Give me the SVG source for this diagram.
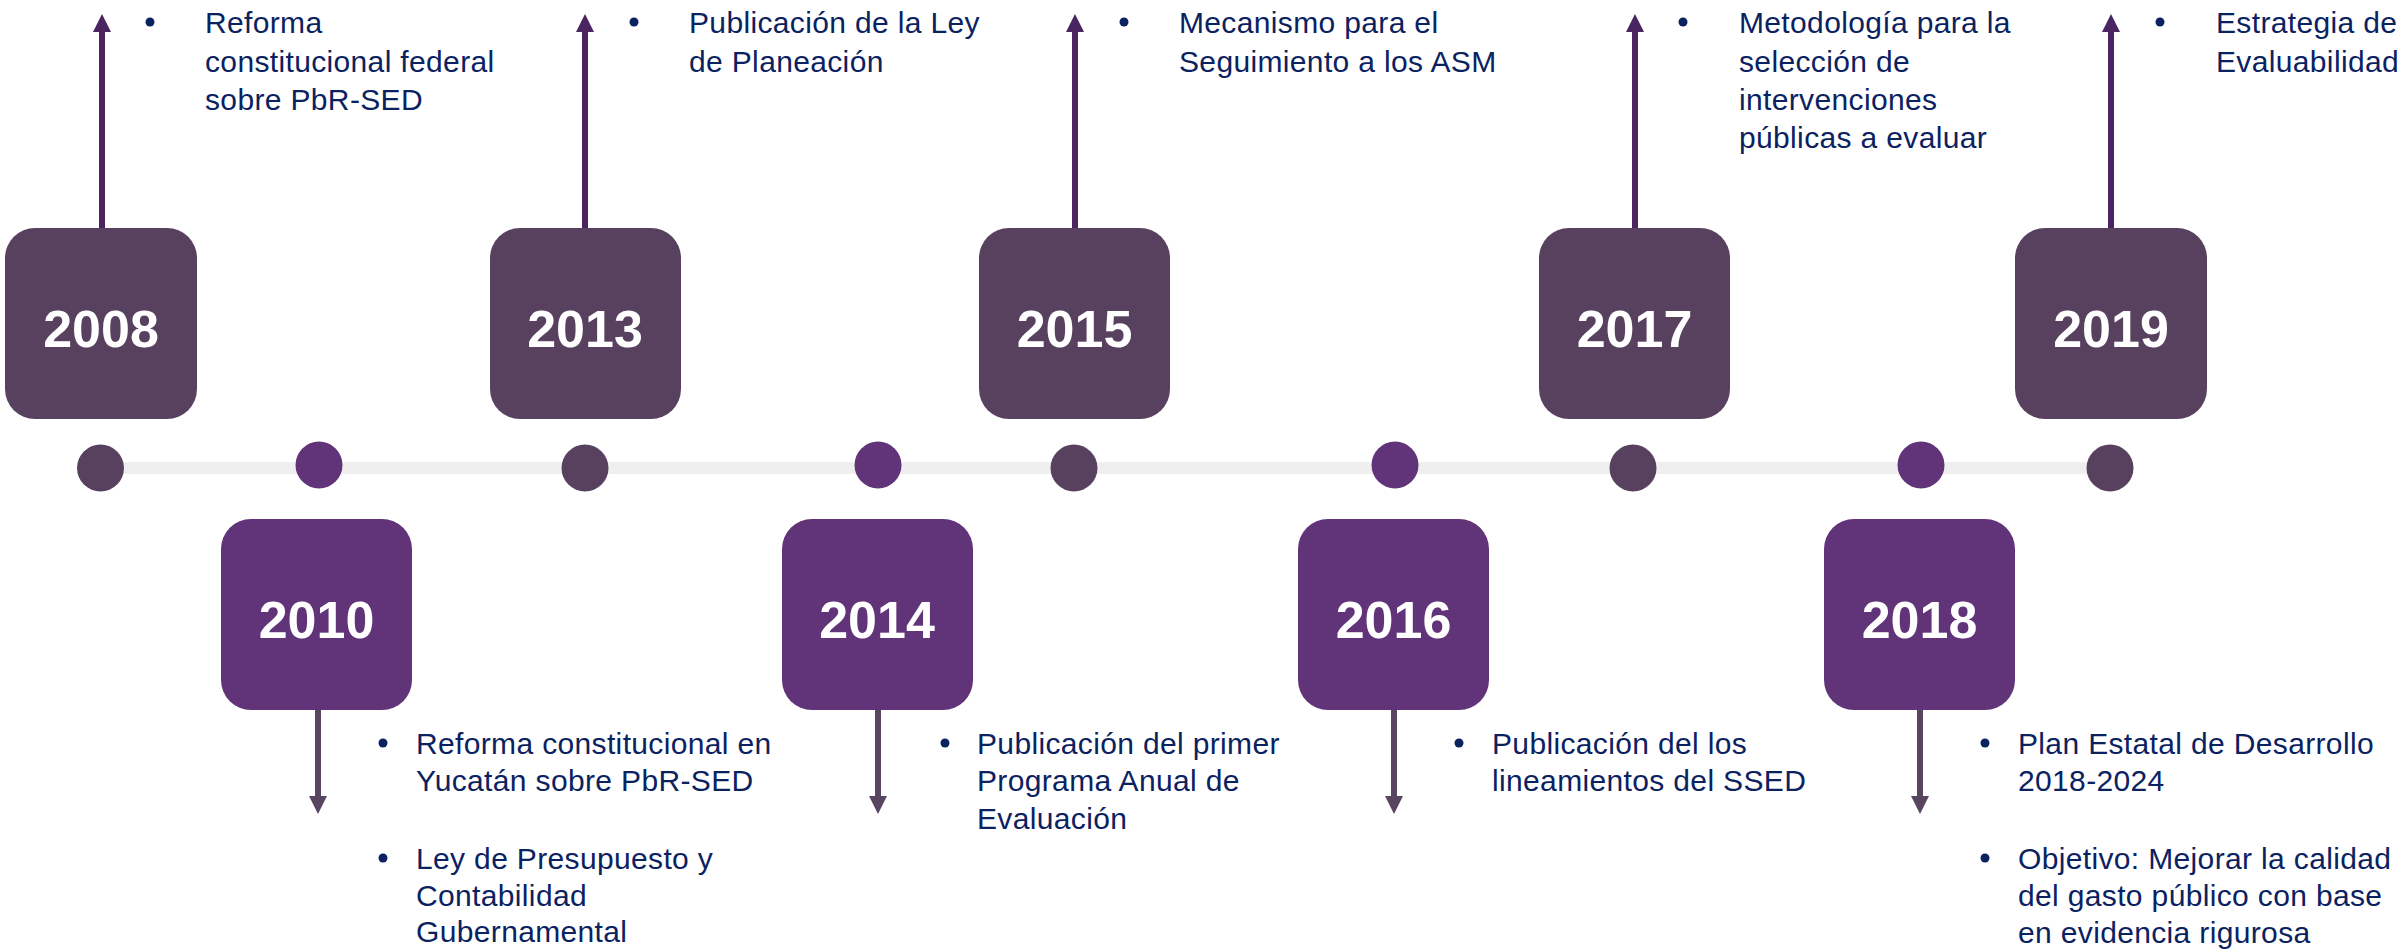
<svg xmlns="http://www.w3.org/2000/svg" width="2402" height="952" viewBox="0 0 2402 952">
<defs>
<style>
.dark{fill:#57415f}
.purp{fill:#613379}
.year{font-family:"Liberation Sans",Arial,sans-serif;font-weight:bold;font-size:52px;fill:#ffffff;text-anchor:middle}
.txt{font-family:"Liberation Sans",Arial,sans-serif;font-size:30px;letter-spacing:0.35px;fill:#0b2261}
.bul{fill:#0b2261}
.up{stroke:#4b2562;stroke-width:6;fill:none}
.down{stroke:#584661;stroke-width:6;fill:none}
</style>
<marker id="headUp" viewBox="0 0 18 18" markerWidth="18" markerHeight="18" refX="0" refY="9" orient="auto" markerUnits="userSpaceOnUse"><path d="M0,0 L18,9 L0,18 z" fill="#4b2562"/></marker>
<marker id="headDown" viewBox="0 0 18 18" markerWidth="18" markerHeight="18" refX="0" refY="9" orient="auto" markerUnits="userSpaceOnUse"><path d="M0,0 L18,9 L0,18 z" fill="#584661"/></marker>
</defs>
<rect width="2402" height="952" fill="#ffffff"/>
<g id="timeline">
<rect x="100" y="462" width="2010" height="12" fill="#efefef"/>
<circle class="dark" cx="100.5" cy="468" r="23.5"/>
<circle class="purp" cx="319" cy="465" r="23.5"/>
<circle class="dark" cx="585" cy="468" r="23.5"/>
<circle class="purp" cx="878" cy="465" r="23.5"/>
<circle class="dark" cx="1074" cy="468" r="23.5"/>
<circle class="purp" cx="1395" cy="465" r="23.5"/>
<circle class="dark" cx="1633" cy="468" r="23.5"/>
<circle class="purp" cx="1921" cy="465" r="23.5"/>
<circle class="dark" cx="2110" cy="468" r="23.5"/>
</g>
<g id="connectors">
<line class="up" x1="102" y1="230" x2="102" y2="32" marker-end="url(#headUp)"/>
<line class="up" x1="585" y1="230" x2="585" y2="32" marker-end="url(#headUp)"/>
<line class="up" x1="1075" y1="230" x2="1075" y2="32" marker-end="url(#headUp)"/>
<line class="up" x1="1635" y1="230" x2="1635" y2="32" marker-end="url(#headUp)"/>
<line class="up" x1="2111" y1="230" x2="2111" y2="32" marker-end="url(#headUp)"/>
<line class="down" x1="318" y1="708" x2="318" y2="796" marker-end="url(#headDown)"/>
<line class="down" x1="878" y1="708" x2="878" y2="796" marker-end="url(#headDown)"/>
<line class="down" x1="1394" y1="708" x2="1394" y2="796" marker-end="url(#headDown)"/>
<line class="down" x1="1920" y1="708" x2="1920" y2="796" marker-end="url(#headDown)"/>
</g>
<g id="y2008">
<rect class="dark" x="5" y="228" width="192" height="191" rx="30"/>
<text class="year" x="101" y="347">2008</text>
<circle class="bul" cx="150" cy="22" r="4.5"/>
<text class="txt" x="205"><tspan x="205" y="33">Reforma</tspan><tspan x="205" y="72">constitucional federal</tspan><tspan x="205" y="110">sobre PbR-SED</tspan></text>
</g>
<g id="y2010">
<rect class="purp" x="221" y="519" width="191" height="191" rx="30"/>
<text class="year" x="316.5" y="638">2010</text>
<circle class="bul" cx="383" cy="743" r="4.5"/>
<text class="txt"><tspan x="416" y="754">Reforma constitucional en</tspan><tspan x="416" y="791">Yucatán sobre PbR-SED</tspan></text>
<circle class="bul" cx="383" cy="858" r="4.5"/>
<text class="txt"><tspan x="416" y="869">Ley de Presupuesto y</tspan><tspan x="416" y="906">Contabilidad</tspan><tspan x="416" y="942">Gubernamental</tspan></text>
</g>
<g id="y2013">
<rect class="dark" x="490" y="228" width="191" height="191" rx="30"/>
<text class="year" x="585" y="347">2013</text>
<circle class="bul" cx="634" cy="22" r="4.5"/>
<text class="txt"><tspan x="689" y="33">Publicación de la Ley</tspan><tspan x="689" y="72">de Planeación</tspan></text>
</g>
<g id="y2014">
<rect class="purp" x="782" y="519" width="191" height="191" rx="30"/>
<text class="year" x="877" y="638">2014</text>
<circle class="bul" cx="945" cy="743" r="4.5"/>
<text class="txt"><tspan x="977" y="754">Publicación del primer</tspan><tspan x="977" y="791">Programa Anual de</tspan><tspan x="977" y="829">Evaluación</tspan></text>
</g>
<g id="y2015">
<rect class="dark" x="979" y="228" width="191" height="191" rx="30"/>
<text class="year" x="1074.5" y="347">2015</text>
<circle class="bul" cx="1124" cy="22" r="4.5"/>
<text class="txt"><tspan x="1179" y="33">Mecanismo para el</tspan><tspan x="1179" y="72">Seguimiento a los ASM</tspan></text>
</g>
<g id="y2016">
<rect class="purp" x="1298" y="519" width="191" height="191" rx="30"/>
<text class="year" x="1393.5" y="638">2016</text>
<circle class="bul" cx="1459" cy="743" r="4.5"/>
<text class="txt"><tspan x="1492" y="754">Publicación del los</tspan><tspan x="1492" y="791">lineamientos del SSED</tspan></text>
</g>
<g id="y2017">
<rect class="dark" x="1539" y="228" width="191" height="191" rx="30"/>
<text class="year" x="1634.5" y="347">2017</text>
<circle class="bul" cx="1683" cy="22" r="4.5"/>
<text class="txt"><tspan x="1739" y="33">Metodología para la</tspan><tspan x="1739" y="72">selección de</tspan><tspan x="1739" y="110">intervenciones</tspan><tspan x="1739" y="148">públicas a evaluar</tspan></text>
</g>
<g id="y2018">
<rect class="purp" x="1824" y="519" width="191" height="191" rx="30"/>
<text class="year" x="1919.5" y="638">2018</text>
<circle class="bul" cx="1985" cy="743" r="4.5"/>
<text class="txt"><tspan x="2018" y="754">Plan Estatal de Desarrollo</tspan><tspan x="2018" y="791">2018-2024</tspan></text>
<circle class="bul" cx="1985" cy="858" r="4.5"/>
<text class="txt"><tspan x="2018" y="869">Objetivo: Mejorar la calidad</tspan><tspan x="2018" y="906">del gasto público con base</tspan><tspan x="2018" y="943">en evidencia rigurosa</tspan></text>
</g>
<g id="y2019">
<rect class="dark" x="2015" y="228" width="192" height="191" rx="30"/>
<text class="year" x="2111" y="347">2019</text>
<circle class="bul" cx="2160" cy="22" r="4.5"/>
<text class="txt"><tspan x="2216" y="33">Estrategia de</tspan><tspan x="2216" y="72">Evaluabilidad</tspan></text>
</g>
</svg>
